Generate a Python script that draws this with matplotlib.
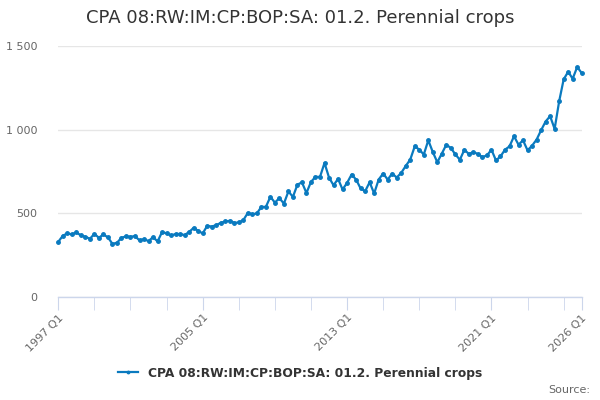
import matplotlib
matplotlib.use("Agg")
import matplotlib.pyplot as plt

# quarterly series, 1997 Q1 .. 2026 Q1
years = list(range(1997, 2027))
values = [331, 367, 381, 375, 387, 369, 361, 349, 378, 355, 375, 357,
          319, 325, 355, 363, 361, 365, 339, 347, 335, 359, 333, 389,
          381, 369, 377, 377, 371, 390, 414, 396, 381, 426, 422, 430,
          444, 452, 456, 444, 446, 460, 503, 495, 500, 539, 539, 599,
          565, 591, 559, 631, 599, 672, 685, 622, 688, 718, 718, 801,
          714, 668, 706, 643, 682, 732, 702, 649, 632, 686, 619, 702,
          738, 702, 738, 714, 742, 783, 821, 900, 881, 851, 936, 866,
          805, 857, 910, 890, 852, 820, 880, 854, 866, 854, 836, 846,
          880, 816, 840, 880, 900, 960, 910, 936, 876, 904, 940, 996,
          1048, 1080, 1004, 1168, 1299, 1345, 1303, 1373, 1337]
labels = ["%d Q%d" % (y, q) for y in years for q in range(1, 5)][:len(values)]
label_ticks = ["1997 Q1", "2005 Q1", "2013 Q1", "2021 Q1", "2026 Q1"]
y_ticks = [0, 500, 1000, 1500]
y_labels = ["0", "500", "1 000", "1 500"]
series_name = "CPA 08:RW:IM:CP:BOP:SA: 01.2. Perennial crops"

fig = plt.figure(figsize=(6, 4), dpi=100)
ax = fig.add_axes([58.3 / 600, 1 - 297.3 / 400, 523.4 / 600, 251.6 / 400])

x = list(range(len(values)))
ax.plot(x, values, color="#0a7abf", linewidth=1.6, marker="o",
        markersize=2.5, label=series_name, zorder=3, clip_on=False)

ax.set_xlim(0, len(values) - 1)
ax.set_ylim(0, 1500)

for s in ["top", "right", "left"]:
    ax.spines[s].set_visible(False)
ax.spines["bottom"].set_color("#ccd6eb")
ax.spines["bottom"].set_linewidth(1)
ax.spines["bottom"].set_zorder(1)

ax.set_yticks(y_ticks)
ax.set_yticklabels(y_labels)
ax.yaxis.grid(True, color="#e6e6e6", linewidth=1)
ax.set_axisbelow(True)
ax.tick_params(axis="y", length=0, pad=15, labelsize=8, labelcolor="#666666")

major = [labels.index(t) for t in label_ticks]
minor = [i for i in range(0, len(values), 8) if i not in major]
ax.set_xticks(major)
ax.set_xticklabels(label_ticks, rotation=45, ha="right",
                   rotation_mode="anchor")
ax.set_xticks(minor, minor=True)
ax.tick_params(axis="x", which="both", length=9, color="#ccd6eb",
               labelsize=8, labelcolor="#666666", pad=2)

fig.text(0.5, 1 - 18 / 400, series_name, ha="center", va="center",
         fontsize=13, color="#333333")

fig.legend(loc="center", bbox_to_anchor=(0.5, 1 - 373 / 400), frameon=False,
           prop={"size": 8.8, "weight": "bold"}, labelcolor="#333333",
           handlelength=1.6, markerscale=0.7)

fig.text(590 / 600, 1 - 390 / 400, "Source:", ha="right", va="center",
         fontsize=8, color="#666666")

fig.savefig("out.png", dpi=100)
